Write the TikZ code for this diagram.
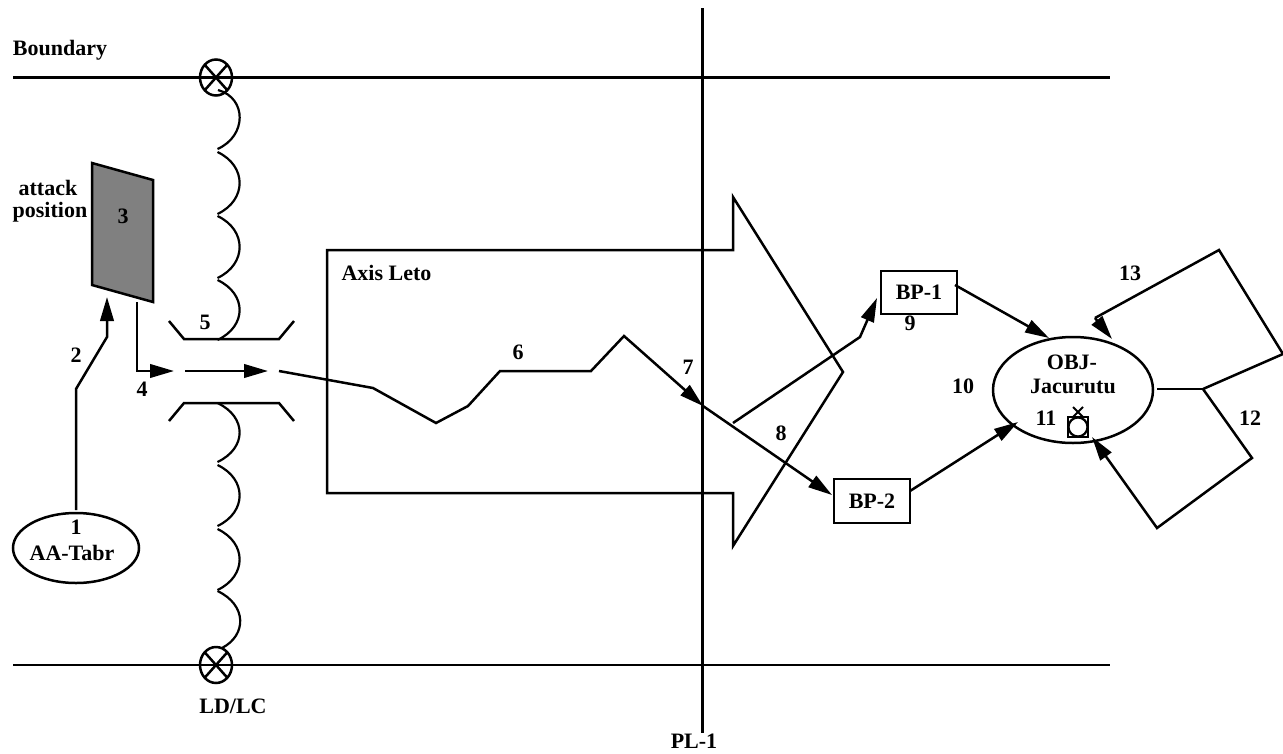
\documentclass[tikz,border=0pt]{standalone}
\usepackage{fontspec}
\setmainfont{Liberation Serif}
\usetikzlibrary{arrows.meta,shapes.geometric}
\tikzset{
  ln/.style={line width=2.5pt,line join=miter,miter limit=4},
  arr/.style={ln,-{Triangle[length=24pt,width=13.5pt]}},
  lbl/.style={inner sep=0pt,font=\fontsize{22}{22}\selectfont\bfseries},
  oval/.style={draw,ellipse,line width=2.5pt,inner sep=0pt,outer sep=0pt},
  boxn/.style={draw,rectangle,line width=2.5pt,inner sep=0pt,outer sep=0pt,font=\fontsize{22}{22}\selectfont\bfseries},
  coil/.style={line width=2.2pt}
}
\begin{document}
\begin{tikzpicture}[x=1pt,y=-1pt]
\useasboundingbox (0,0) rectangle (1283,753);
% main lines
\coordinate (bl1) at (13,77.5); \coordinate (br1) at (1110,77.5);
\coordinate (bl2) at (13,665); \coordinate (br2) at (1110,665);
\coordinate (pt) at (702.5,8); \coordinate (pb) at (702.5,733);
\draw[ln] (bl1) -- (br1);
\draw[ln] (bl2) -- (br2);
\draw[ln] (pt) -- (pb);
% crossed circles
\foreach \n/\y in {xa/77.5,xb/665}{
  \node[oval,minimum width=32pt,minimum height=36pt] (\n) at (216,\y) {};
  \draw[ln] (\n.north west) -- (\n.south east);
  \draw[ln] (\n.north east) -- (\n.south west);
}
% coils
\foreach \a/\b in {152/214,216/278,280/340,403/462,465/526,529/590}{
  \draw[coil] (217.5,\a) .. controls (247,\a+14) and (247,\b-14) .. (217.5,\b);
}
\draw[coil] (218,90) .. controls (247,98) and (247,136) .. (217.5,149);
\draw[coil] (217.5,591) .. controls (247,605) and (247,635) .. (222,648);
% attack position
\coordinate (q1) at (92,163); \coordinate (q2) at (153,180);
\coordinate (q3) at (153,302); \coordinate (q4) at (92,285);
\draw[ln,fill=black!50] (q1) -- (q2) -- (q3) -- (q4) -- cycle;
% AA-Tabr
\node[oval,minimum width=126pt,minimum height=70pt] (aa) at (76,548) {};
\coordinate (a2a) at (76,510); \coordinate (a2b) at (76,389);
\coordinate (a2c) at (107,337); \coordinate (a2d) at (107,297);
\draw[arr] (a2a) -- (a2b) -- (a2c) -- (a2d);
\coordinate (a4a) at (137,302); \coordinate (a4b) at (137,371); \coordinate (a4c) at (174,371);
\draw[arr] (a4a) -- (a4b) -- (a4c);
\coordinate (g1) at (185,371); \coordinate (g2) at (268,371);
\draw[arr] (g1) -- (g2);
% funnels
\coordinate (u1) at (169,321); \coordinate (u2) at (184,339); \coordinate (u3) at (279,339); \coordinate (u4) at (294,321);
\coordinate (d1) at (169,421); \coordinate (d2) at (184,403); \coordinate (d3) at (279,403); \coordinate (d4) at (294,421);
\draw[ln] (u1) -- (u2) -- (u3) -- (u4);
\draw[ln] (d1) -- (d2) -- (d3) -- (d4);
% axis arrow
\draw[ln] (327,250) -- (733,250) -- (733,197) -- (843,372) -- (733,546) -- (733,493) -- (327,493) -- cycle;
% boxes
\node[boxn,minimum width=76pt,minimum height=43pt] (bp1) at (919,292.5) {BP-1};
\node[boxn,minimum width=76pt,minimum height=44pt] (bp2) at (872,501) {BP-2};
\node[oval,minimum width=160pt,minimum height=106pt] (obj) at (1073,390) {};
% route
\coordinate (r0) at (279,371); \coordinate (r1) at (373,388); \coordinate (r2) at (436,423);
\coordinate (r3) at (468,406); \coordinate (r4) at (500,371); \coordinate (r5) at (591,371);
\coordinate (r6) at (624,336); \coordinate (r7) at (703,406);
\coordinate (r8) at (832,495);
\draw[arr] (r0) -- (r1) -- (r2) -- (r3) -- (r4) -- (r5) -- (r6) -- (r7);
\draw[arr] (r7) -- (r8);
\coordinate (b0) at (733,423); \coordinate (b1) at (860,337); \coordinate (b2) at (877,298);
\draw[arr] (b0) -- (b1) -- (b2);
\coordinate (o1) at (1049,338); \coordinate (o2) at (1018,422);
\coordinate (s1) at (955,285); \coordinate (s2) at (910,491);
\draw[arr] (s1) -- (o1);
\draw[arr] (s2) -- (o2);
% loops
\coordinate (l0) at (1157,389); \coordinate (l1) at (1203,389);
\coordinate (l2) at (1283,354); \coordinate (l3) at (1219,250); \coordinate (l4) at (1095,318); \coordinate (l5) at (1112,339);
\coordinate (m2) at (1252,458); \coordinate (m3) at (1157,528); \coordinate (m4) at (1092,437);
\draw[ln] (l0) -- (l1);
\draw[ln] (l1) -- (l2) -- (l3) -- (l4);
\draw[arr] (l4) -- (l5);
\draw[arr] (l1) -- (m2) -- (m3) -- (m4);
% objective symbol
\node[draw,rectangle,line width=2.2pt,inner sep=0pt,outer sep=0pt,minimum width=20pt,minimum height=20pt] (sq) at (1078,427) {};
\node[draw,circle,line width=2.2pt,inner sep=0pt,outer sep=0pt,minimum size=19pt] (ci) at (1078,427) {};
\coordinate (x1) at (1073,407); \coordinate (x2) at (1083,417); \coordinate (x3) at (1083,407); \coordinate (x4) at (1073,417);
\draw[line width=2pt] (x1) -- (x2);
\draw[line width=2pt] (x3) -- (x4);
% labels
\node[lbl] (tb) at (60,50) {Boundary};
\node[lbl] (ta) at (48,188) {attack};
\node[lbl] (tp) at (50,212) {position};
\node[lbl] (t3) at (123,216) {3};
\node[lbl] (t2) at (76,355) {2};
\node[lbl] (t4) at (142,389) {4};
\node[lbl] (t5) at (205,322) {5};
\node[lbl] (t6) at (518,352) {6};
\node[lbl] (t7) at (688,367) {7};
\node[lbl] (t8) at (781,433) {8};
\node[lbl] (t9) at (910,323) {9};
\node[lbl] (t10) at (963,386) {10};
\node[lbl] (t11) at (1046,418) {11};
\node[lbl] (t12) at (1250,418) {12};
\node[lbl] (t13) at (1130,273) {13};
\node[lbl] (t1) at (76,527) {1};
\node[lbl] (taa) at (72,553) {AA-Tabr};
\node[lbl] (tld) at (233,706) {LD/LC};
\node[lbl] (tpl) at (694,741) {PL-1};
\node[lbl] (tax) at (386.5,273) {Axis Leto};
\node[lbl] (tob) at (1072,362) {OBJ-};
\node[lbl] (tja) at (1073,386) {Jacurutu};
\end{tikzpicture}
\end{document}
